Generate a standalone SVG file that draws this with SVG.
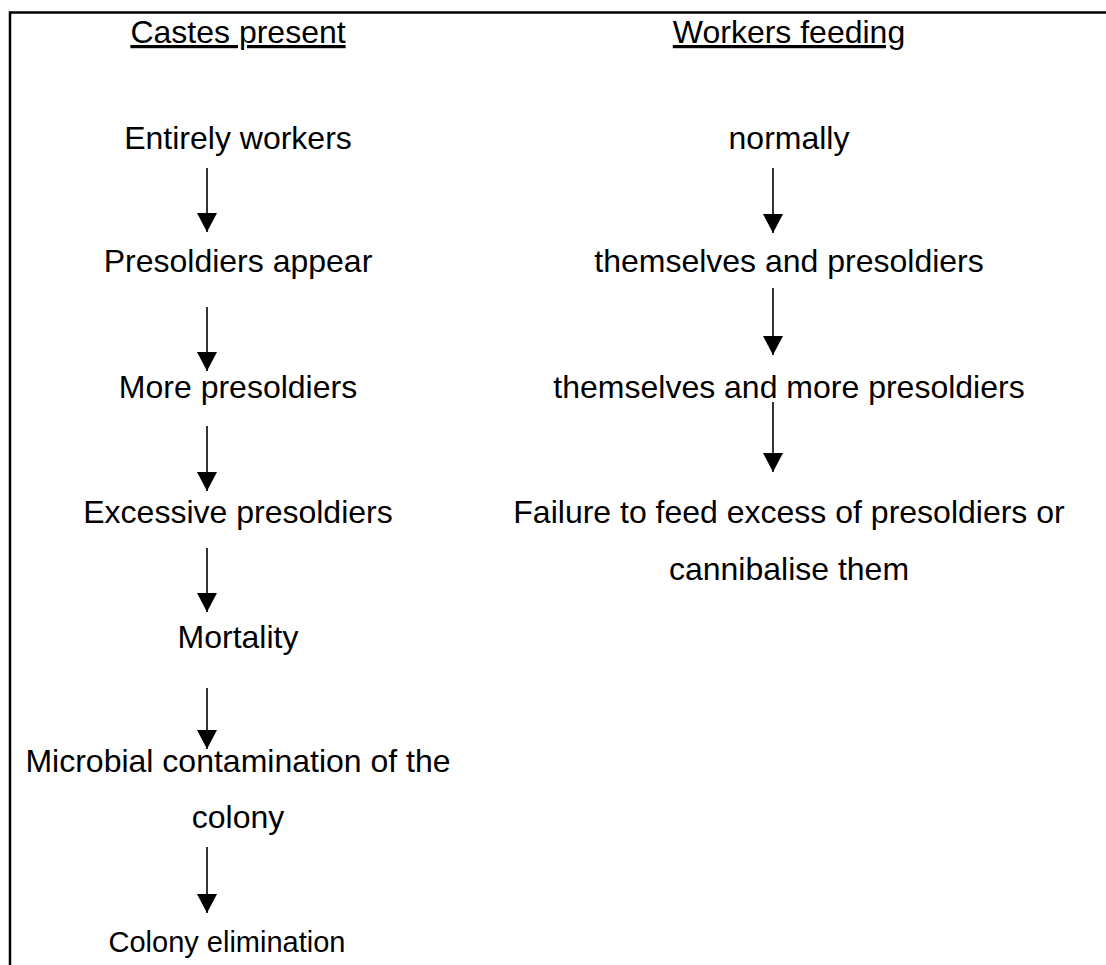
<svg xmlns="http://www.w3.org/2000/svg" width="1106" height="965" viewBox="0 0 1106 965">
<defs>
<style>
text{font-family:"Liberation Sans",Arial,sans-serif;font-size:32px;fill:#000;text-anchor:middle}
.hd{text-decoration:underline}
.c{stroke:#000;stroke-width:1.6;fill:none;marker-end:url(#ah)}
.frame{stroke:#000;stroke-width:2.5;fill:none}
</style>
<marker id="ah" markerUnits="userSpaceOnUse" markerWidth="20" markerHeight="20" viewBox="0 -10 19 20" refX="19" refY="0" orient="auto">
<path d="M0,-10 L19,0 L0,10 Z" fill="#000"/>
</marker>
</defs>
<rect width="1106" height="965" fill="#fff"/>
<path class="frame" d="M10,965 V12.5 H1106"/>
<g id="h1"><text class="hd" x="238" y="43">Castes present</text></g>
<g id="h2"><text class="hd" x="789" y="43">Workers feeding</text></g>
<g id="n1"><text x="238" y="149">Entirely workers</text></g>
<g id="n2"><text x="238" y="272">Presoldiers appear</text></g>
<g id="n3"><text x="238" y="398">More presoldiers</text></g>
<g id="n4"><text x="238" y="523">Excessive presoldiers</text></g>
<g id="n5"><text x="238" y="648">Mortality</text></g>
<g id="n6"><text x="238" y="772">Microbial contamination of the</text><text x="238" y="828">colony</text></g>
<g id="n7"><text x="227" y="952" style="font-size:29px">Colony elimination</text></g>
<g id="r1"><text x="789" y="149">normally</text></g>
<g id="r2"><text x="789" y="272">themselves and presoldiers</text></g>
<g id="r3"><text x="789" y="398">themselves and more presoldiers</text></g>
<g id="r4"><text x="789" y="523">Failure to feed excess of presoldiers or</text><text x="789" y="580">cannibalise them</text></g>
<g id="connectors">
<line class="c" x1="207" y1="168" x2="207" y2="232"/>
<line class="c" x1="207" y1="307" x2="207" y2="371"/>
<line class="c" x1="207" y1="426" x2="207" y2="491"/>
<line class="c" x1="207" y1="548" x2="207" y2="612"/>
<line class="c" x1="207" y1="688" x2="207" y2="749"/>
<line class="c" x1="207" y1="847" x2="207" y2="913"/>
<line class="c" x1="773" y1="168" x2="773" y2="233"/>
<line class="c" x1="773" y1="288" x2="773" y2="355"/>
<line class="c" x1="773" y1="402" x2="773" y2="472"/>
</g>
</svg>
